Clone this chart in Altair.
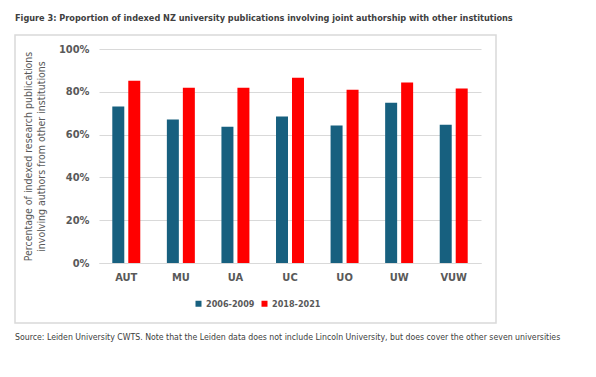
import altair as alt
import pandas as pd

universities = ["AUT", "MU", "UA", "UC", "UO", "UW", "VUW"]
period_a = "2006-2009"
period_b = "2018-2021"
values_a = [73.1, 67.0, 63.7, 68.4, 64.2, 74.9, 64.6]
values_b = [85.2, 81.9, 81.9, 86.6, 81.0, 84.3, 81.5]
y_ticks = [0, 20, 40, 60, 80, 100]

title_text = "Figure 3: Proportion of indexed NZ university publications involving joint authorship with other institutions"
source_text = "Source: Leiden University CWTS.  Note that the Leiden data does not include Lincoln University, but does cover the other seven universities"
y_title = ["Percentage of indexed research publications", "involving authors from other institutions"]

rows = []
for u, a, b in zip(universities, values_a, values_b):
    rows.append({"uni": u, "period": period_a, "value": a / 100})
    rows.append({"uni": u, "period": period_b, "value": b / 100})
df = pd.DataFrame(rows)

FONT = "DejaVu Sans Condensed"
GRAY = "#595959"

bars = alt.Chart(df).mark_bar().encode(
    x=alt.X("uni:N", sort=universities,
            scale=alt.Scale(paddingInner=0.414, paddingOuter=0.207),
            axis=alt.Axis(title=None, labelAngle=0, labelFont=FONT, labelFontWeight="bold",
                          labelFontSize=11, labelColor=GRAY, ticks=False, domain=True,
                          domainColor="#D9D9D9", labelPadding=8, grid=False)),
    xOffset=alt.XOffset("period:N", sort=[period_a, period_b],
                        scale=alt.Scale(paddingInner=0.25, paddingOuter=0.125)),
    y=alt.Y("value:Q", scale=alt.Scale(domain=[0, 1]),
            axis=alt.Axis(title=y_title, format=".0%", values=[t / 100 for t in y_ticks],
                          labelFont=FONT, labelFontWeight="bold", labelFontSize=11,
                          labelColor=GRAY, ticks=False, domain=False, labelPadding=10,
                          gridColor="#D9D9D9", titleFont=FONT, titleFontSize=10.5,
                          titleFontWeight="normal", titleColor=GRAY, titlePadding=12)),
    color=alt.Color("period:N", sort=[period_a, period_b],
                    scale=alt.Scale(domain=[period_a, period_b], range=["#17607F", "#FF0000"]),
                    legend=alt.Legend(title=None, orient="none", direction="horizontal",
                                      legendX=95, legendY=250, symbolType="square",
                                      symbolSize=36, symbolStrokeWidth=0,
                                      labelFont=FONT, labelFontWeight="bold", labelFontSize=9,
                                      labelColor=GRAY, columnPadding=5, labelOffset=3)),
)

one = alt.Data(values=[{}])

border = alt.Chart(one).mark_rect(fill=None, stroke="#D9D9D9", strokeWidth=1.5).encode(
    x=alt.value(-84), x2=alt.value(397), y=alt.value(-14), y2=alt.value(274)
)

title = alt.Chart(one).mark_text(
    text=title_text, font=FONT, fontWeight="bold", fontSize=9.1, color="#404040",
    align="left", baseline="middle"
).encode(x=alt.value(-84), y=alt.value(-31))

source = alt.Chart(one).mark_text(
    text=source_text, font=FONT, fontSize=8.7, color="#404040",
    align="left", baseline="middle"
).encode(x=alt.value(-84), y=alt.value(288))

chart = alt.layer(border, bars, title, source).properties(
    width=382, height=214,
    autosize=alt.AutoSizeParams(type="none"),
    padding={"left": 91, "top": 41, "right": 107, "bottom": 106},
).configure_view(stroke=None)

chart.save("out.html", embed_options={"renderer": "svg", "actions": False})
